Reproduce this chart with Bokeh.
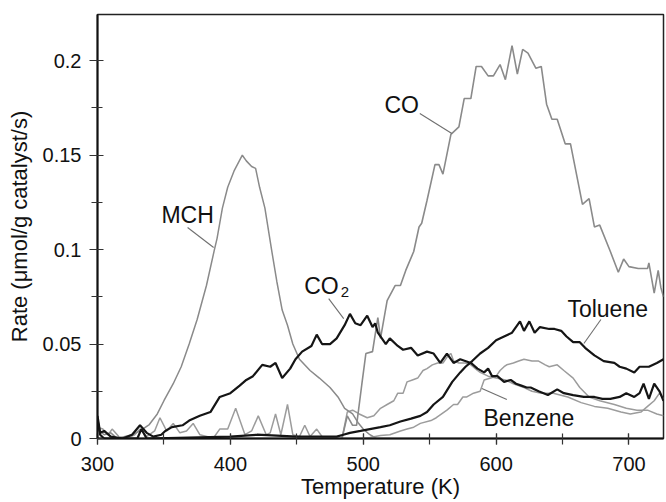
from bokeh.plotting import figure
from bokeh.models import (Range1d, SingleIntervalTicker, CustomJSTickFormatter, Label, ColumnDataSource)
from bokeh.embed import file_html
from bokeh.resources import INLINE

# ---------------- data ----------------
mch_T = [300, 305, 310, 315, 320, 326, 332, 339, 345, 350, 357, 363, 369, 375, 382, 388, 390, 394, 398, 403, 409, 412, 416, 419, 422, 426, 431, 435, 439, 443, 447, 452, 460, 467, 475, 481, 486, 492, 496, 500, 505, 510, 520]
mch_R = [0.005, 0.002, 0.003, 0.0, 0.001, 0.002, 0.004, 0.0074, 0.013, 0.020, 0.029, 0.038, 0.050, 0.063, 0.081, 0.100, 0.106, 0.122, 0.133, 0.142, 0.150, 0.147, 0.144, 0.143, 0.133, 0.122, 0.100, 0.083, 0.068, 0.060, 0.050, 0.042, 0.036, 0.032, 0.027, 0.022, 0.016, 0.013, 0.0085, 0.005, 0.002, 0.0, 0.0]

co_T = [470, 480, 484, 488, 492, 495, 499, 502, 507, 511, 513, 518, 524, 528, 532, 538, 542, 544, 548, 554, 557, 560, 566, 572, 576, 581, 585, 589, 594, 598, 603, 607, 612, 616, 620, 624, 630, 634, 638, 642, 646, 652, 656, 665, 670, 674, 678, 686, 692, 696, 700, 707, 714, 715, 719, 722, 724, 726]
co_R = [0.0, 0.0, 0.0, 0.012, 0.007, 0.007, 0.029, 0.045, 0.046, 0.064, 0.053, 0.073, 0.081, 0.081, 0.089, 0.099, 0.112, 0.114, 0.126, 0.145, 0.145, 0.140, 0.161, 0.165, 0.180, 0.180, 0.197, 0.197, 0.192, 0.192, 0.198, 0.190, 0.208, 0.193, 0.206, 0.204, 0.196, 0.197, 0.177, 0.169, 0.169, 0.156, 0.156, 0.124, 0.127, 0.112, 0.113, 0.099, 0.088, 0.095, 0.091, 0.090, 0.090, 0.093, 0.077, 0.089, 0.080, 0.075]

co2_T = [300, 302, 305, 310, 319, 326, 332, 337, 342, 348, 351, 356, 364, 369, 377, 385, 392, 400, 407, 412, 417, 424, 430, 434, 439, 445, 449, 454, 461, 465, 469, 475, 480, 486, 490, 494, 498, 503, 507, 509, 511, 514, 517, 520, 526, 530, 536, 541, 548, 553, 558, 563, 568, 573, 581, 586, 591, 594, 597, 601, 606, 611, 615, 619, 623, 626, 632, 639, 646, 651, 658, 666, 674, 680, 686, 693, 698, 704, 708, 711, 715, 719, 723, 726]
co2_R = [0.012, 0.003, 0.004, 0.001, 0.0, 0.002, 0.007, 0.003, 0.001, 0.002, 0.004, 0.006, 0.007, 0.0095, 0.012, 0.014, 0.022, 0.024, 0.028, 0.031, 0.033, 0.039, 0.038, 0.040, 0.032, 0.037, 0.042, 0.046, 0.049, 0.055, 0.050, 0.050, 0.053, 0.060, 0.066, 0.061, 0.060, 0.065, 0.059, 0.061, 0.056, 0.053, 0.050, 0.053, 0.049, 0.047, 0.048, 0.044, 0.046, 0.045, 0.040, 0.045, 0.040, 0.042, 0.040, 0.037, 0.035, 0.037, 0.033, 0.033, 0.030, 0.031, 0.029, 0.028, 0.027, 0.027, 0.025, 0.023, 0.026, 0.024, 0.023, 0.022, 0.022, 0.021, 0.021, 0.022, 0.024, 0.022, 0.024, 0.029, 0.021, 0.029, 0.025, 0.020]

tol_T = [300, 302, 305, 330, 333, 337, 400, 420, 450, 470, 480, 485, 490, 498, 505, 513, 520, 528, 536, 543, 548, 553, 560, 567, 573, 577, 582, 588, 594, 600, 606, 612, 618, 621, 625, 629, 633, 640, 644, 649, 653, 658, 663, 667, 674, 681, 689, 693, 698, 704, 708, 715, 721, 726]
tol_R = [0.010, 0.002, 0.0, 0.0, 0.005, 0.0, 0.001, 0.002, 0.001, 0.001, 0.001, 0.002, 0.003, 0.004, 0.005, 0.006, 0.007, 0.009, 0.0105, 0.012, 0.014, 0.018, 0.022, 0.030, 0.035, 0.038, 0.041, 0.045, 0.048, 0.052, 0.054, 0.056, 0.062, 0.057, 0.062, 0.056, 0.059, 0.058, 0.058, 0.057, 0.054, 0.051, 0.051, 0.048, 0.044, 0.041, 0.040, 0.038, 0.037, 0.035, 0.038, 0.038, 0.040, 0.042]

ben_T = [300, 500, 505, 513, 520, 528, 533, 538, 543, 551, 555, 563, 568, 571, 575, 578, 583, 588, 591, 596, 600, 603, 606, 608, 613, 617, 621, 627, 632, 637, 640, 646, 651, 658, 663, 670, 678, 689, 698, 706, 714, 721, 726]
ben_R = [0.0, 0.0, 0.0005, 0.0016, 0.002, 0.004, 0.005, 0.006, 0.008, 0.0095, 0.011, 0.015, 0.018, 0.018, 0.022, 0.022, 0.024, 0.025, 0.031, 0.032, 0.033, 0.036, 0.038, 0.039, 0.040, 0.041, 0.042, 0.041, 0.041, 0.039, 0.038, 0.039, 0.036, 0.032, 0.027, 0.022, 0.020, 0.018, 0.016, 0.015, 0.015, 0.013, 0.012]

oth_T = [300, 304, 308, 311, 316, 322, 328, 332, 337, 343, 347, 352, 357, 362, 367, 372, 377, 383, 387, 392, 398, 404, 411, 416, 421, 427, 430, 434, 438, 443, 447, 452, 456, 460, 465, 470, 478, 484, 488, 492, 497, 503, 508, 513, 518, 523, 526, 530, 533, 537, 541, 545, 548, 552, 556, 560, 564, 566, 568, 572, 577, 581, 586, 588, 594, 600, 607, 613, 621, 627, 634, 643, 654, 664, 674, 684, 694, 701, 709, 714, 719, 723, 726]
oth_R = [0.006, 0.005, 0.002, 0.005, 0.001, 0.0, 0.002, 0.005, 0.001, 0.004, 0.011, 0.004, 0.008, 0.003, 0.004, 0.008, 0.002, 0.001, 0.0, 0.005, 0.005, 0.016, 0.002, 0.004, 0.012, 0.002, 0.003, 0.013, 0.002, 0.018, 0.002, 0.001, 0.007, 0.001, 0.005, 0.0, 0.0, 0.0, 0.014, 0.015, 0.013, 0.011, 0.012, 0.016, 0.018, 0.020, 0.024, 0.024, 0.030, 0.031, 0.032, 0.036, 0.037, 0.039, 0.040, 0.040, 0.044, 0.045, 0.041, 0.040, 0.040, 0.039, 0.036, 0.035, 0.033, 0.032, 0.031, 0.029, 0.027, 0.025, 0.024, 0.024, 0.022, 0.019, 0.017, 0.016, 0.014, 0.013, 0.014, 0.017, 0.020, 0.024, 0.021]

x_ticks = [300, 400, 500, 600, 700]
y_ticks = [0, 0.05, 0.1, 0.15, 0.2]

# labels: text, x, y (data coords), and pointer segments
lab_text = ["MCH", "CO", "CO", "Toluene", "Benzene"]
lab_x = [367.8, 529.0, 468.5, 684.0, 624.7]
lab_y = [0.1186, 0.1768, 0.0805, 0.0688, 0.0111]
sub_text = "2"
sub_x = 486.3
sub_y = 0.0776
ptr_x0 = [367.8, 542.6, 474.0, 678.9, 608.1]
ptr_y0 = [0.1117, 0.1721, 0.0741, 0.0630, 0.0206]
ptr_x1 = [387.4, 566.7, 485.3, 666.1, 589.3]
ptr_y1 = [0.1011, 0.1615, 0.0635, 0.0503, 0.0265]

FONT = "Liberation Sans"

p = figure(width=666, height=502, output_backend="svg", toolbar_location=None,
           x_range=Range1d(300, 726), y_range=Range1d(0, 0.2245),
           min_border_left=97, min_border_right=3, min_border_top=14, min_border_bottom=64)
p.background_fill_color = "white"
p.border_fill_color = "white"
p.outline_line_color = "#222222"
p.outline_line_width = 1.5
p.xgrid.visible = False
p.ygrid.visible = False

GRAY1 = "#8a8a8a"
GRAY2 = "#9c9c9c"
BLACK = "#151515"

p.line(oth_T, oth_R, line_color=GRAY2, line_width=1.5)
p.line(ben_T, ben_R, line_color=GRAY2, line_width=1.5)
p.line(mch_T, mch_R, line_color=GRAY1, line_width=1.5)
p.line(co_T, co_R, line_color=GRAY1, line_width=1.6)
p.line(co2_T, co2_R, line_color=BLACK, line_width=2.2)
p.line(tol_T, tol_R, line_color=BLACK, line_width=2.2)

# pointers
src = ColumnDataSource(dict(x0=ptr_x0, y0=ptr_y0, x1=ptr_x1, y1=ptr_y1))
p.segment(x0="x0", y0="y0", x1="x1", y1="y1", source=src, line_color="#6f6f6f", line_width=1.1)

for t, x, y in zip(lab_text, lab_x, lab_y):
    p.add_layout(Label(x=x, y=y, text=t, text_font=FONT, text_font_size="23px",
                       text_color="#111111", text_align="center", text_baseline="middle"))
# subscript of CO2
p.add_layout(Label(x=sub_x, y=sub_y, text=sub_text, text_font=FONT, text_font_size="15px",
                   text_color="#111111", text_align="center", text_baseline="middle"))

# axes
xa = p.xaxis[0]
xa.ticker = SingleIntervalTicker(interval=100, num_minor_ticks=2)
xa.axis_label = "Temperature (K)"
ya = p.yaxis[0]
ya.ticker = SingleIntervalTicker(interval=0.05, num_minor_ticks=2)
ya.formatter = CustomJSTickFormatter(code="return tick.toFixed(2).replace(/\\.?0+$/, '')")
ya.axis_label = "Rate (\u03bcmol/g catalyst/s)"

for ax in (xa, ya):
    ax.axis_line_color = "#111111"
    ax.axis_line_width = 2
    ax.major_tick_line_color = "#333333"
    ax.minor_tick_line_color = "#333333"
    ax.major_tick_line_width = 1.2
    ax.minor_tick_line_width = 1.2
    ax.major_label_text_font = FONT
    ax.major_label_text_font_size = "20px"
    ax.major_label_text_color = "#111111"
    ax.axis_label_text_font = FONT
    ax.axis_label_text_font_size = "22px"
    ax.axis_label_text_font_style = "normal"
    ax.axis_label_text_color = "#111111"

xa.major_tick_in = 5
xa.major_tick_out = 6
xa.minor_tick_in = 5
xa.minor_tick_out = 6
xa.major_label_standoff = 12
xa.axis_label_standoff = 0

ya.major_tick_in = 6
ya.major_tick_out = 8
ya.minor_tick_in = 5
ya.minor_tick_out = 6
ya.major_label_standoff = 8
ya.axis_label_standoff = 8

open("out.html", "w").write(file_html(p, INLINE))
